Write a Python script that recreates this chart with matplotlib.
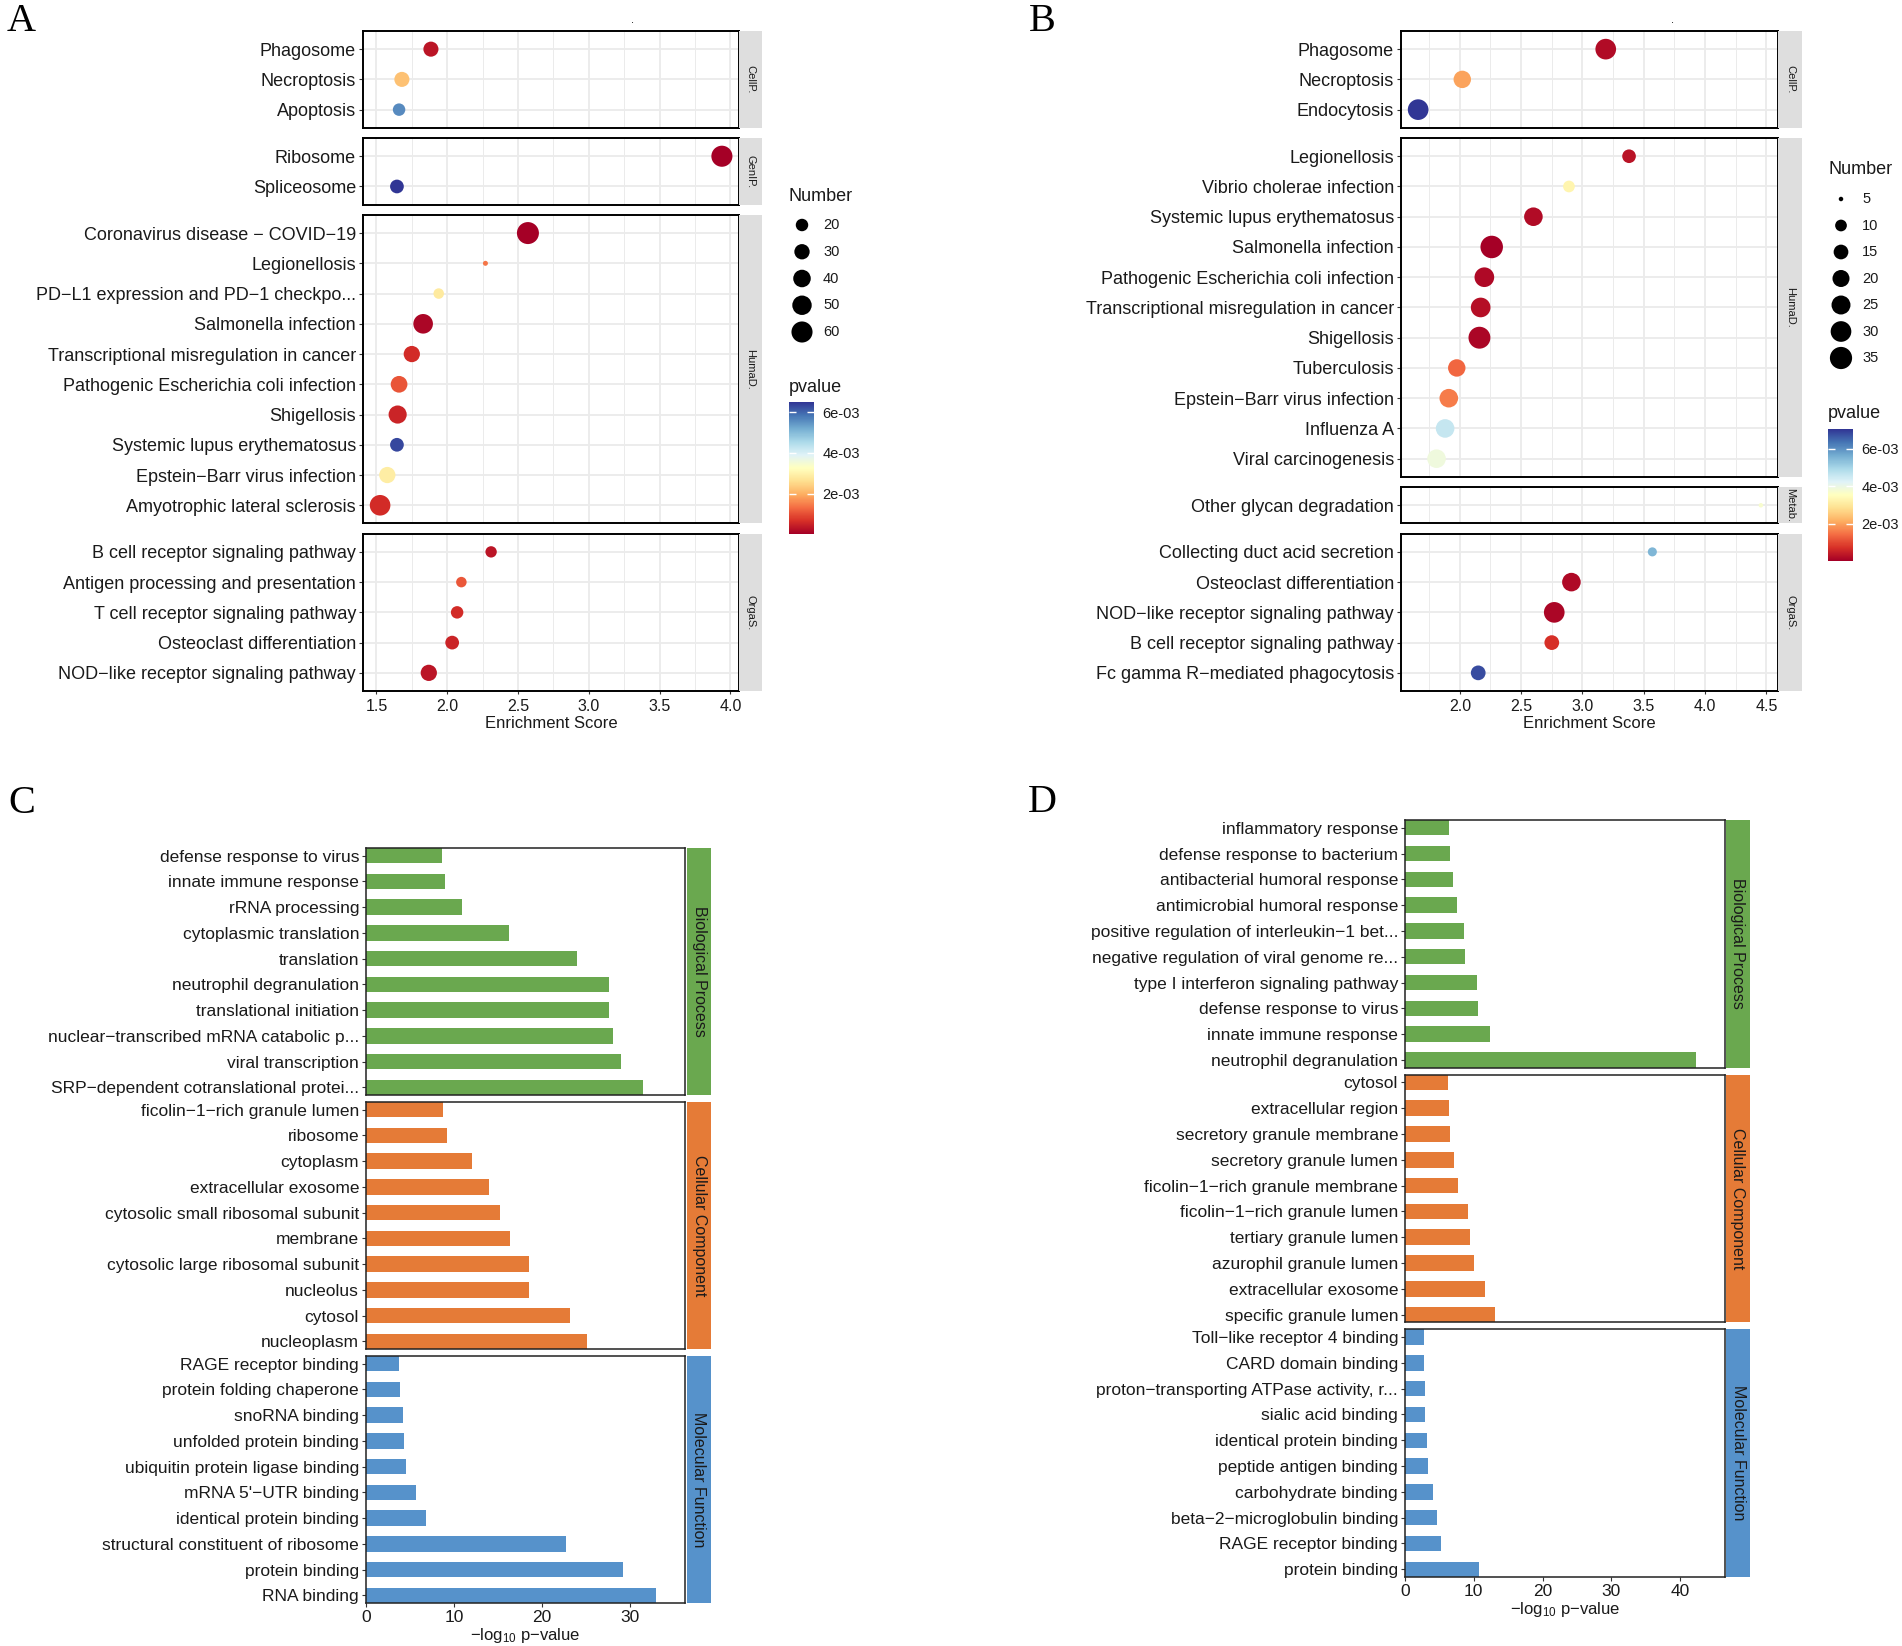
import matplotlib
matplotlib.use('Agg')
import matplotlib.pyplot as plt
import numpy as np
from matplotlib import colors as mcolors
from matplotlib.cm import ScalarMappable

plt.rcParams['font.family'] = ['Liberation Sans', 'DejaVu Sans']
plt.rcParams['mathtext.fontset'] = 'custom'
plt.rcParams['mathtext.rm'] = 'Liberation Sans'
plt.rcParams['mathtext.it'] = 'Liberation Sans:italic'

W, H, DPI = 1902, 1646, 100

# ---------------- Panel A data ----------------
cats_a = ['Phagosome', 'Necroptosis', 'Apoptosis',
          'Ribosome', 'Spliceosome',
          'Coronavirus disease \u2212 COVID\u221219', 'Legionellosis',
          'PD\u2212L1 expression and PD\u22121 checkpo...', 'Salmonella infection',
          'Transcriptional misregulation in cancer', 'Pathogenic Escherichia coli infection',
          'Shigellosis', 'Systemic lupus erythematosus', 'Epstein\u2212Barr virus infection',
          'Amyotrophic lateral sclerosis',
          'B cell receptor signaling pathway', 'Antigen processing and presentation',
          'T cell receptor signaling pathway', 'Osteoclast differentiation',
          'NOD\u2212like receptor signaling pathway']
group_a = ['CellP.'] * 3 + ['GenIP.'] * 2 + ['HumaD.'] * 10 + ['OrgaS.'] * 5
score_a = [1.885, 1.68, 1.66, 3.94, 1.645, 2.57, 2.27, 1.94, 1.83, 1.75, 1.66, 1.65,
           1.645, 1.577, 1.526, 2.31, 2.10, 2.07, 2.035, 1.87]
count_a = [29, 29, 20, 60, 24, 66, 9, 15, 51, 34, 36, 43, 24, 34, 57, 17, 15, 20, 24, 34]
pval_a = [3e-4, 2.2e-3, 5.6e-3, 1e-5, 6.5e-3, 1e-5, 1.4e-3, 2.8e-3, 1e-4, 6e-4, 1.05e-3,
          5e-4, 6.3e-3, 2.9e-3, 6e-4, 3e-4, 1.1e-3, 6e-4, 5e-4, 3e-4]
number_breaks_a = [20, 30, 40, 50, 60]
xticks_a = [1.5, 2.0, 2.5, 3.0, 3.5, 4.0]

# ---------------- Panel B data ----------------
cats_b = ['Phagosome', 'Necroptosis', 'Endocytosis',
          'Legionellosis', 'Vibrio cholerae infection', 'Systemic lupus erythematosus',
          'Salmonella infection', 'Pathogenic Escherichia coli infection',
          'Transcriptional misregulation in cancer', 'Shigellosis', 'Tuberculosis',
          'Epstein\u2212Barr virus infection', 'Influenza A', 'Viral carcinogenesis',
          'Other glycan degradation',
          'Collecting duct acid secretion', 'Osteoclast differentiation',
          'NOD\u2212like receptor signaling pathway', 'B cell receptor signaling pathway',
          'Fc gamma R\u2212mediated phagocytosis']
group_b = ['CellP.'] * 3 + ['HumaD.'] * 11 + ['Metab.'] + ['OrgaS.'] * 5
score_b = [3.19, 2.02, 1.66, 3.38, 2.89, 2.60, 2.26, 2.20, 2.17, 2.16, 1.975, 1.91, 1.88,
           1.81, 4.455, 3.57, 2.91, 2.77, 2.75, 2.15]
count_b = [30, 21, 30, 13, 10, 24, 36, 27, 27, 34, 21, 24, 24, 24, 5, 7, 24, 30, 15, 15]
pval_b = [2e-4, 2.0e-3, 7.05e-3, 3e-4, 3.3e-3, 2e-4, 1e-5, 1.5e-4, 2.5e-4, 1e-4, 1.35e-3,
          1.6e-3, 4.6e-3, 3.9e-3, 3.7e-3, 5.5e-3, 1.5e-4, 1e-4, 7e-4, 6.8e-3]
number_breaks_b = [5, 10, 15, 20, 25, 30, 35]
xticks_b = [2.0, 2.5, 3.0, 3.5, 4.0, 4.5]

# ---------------- Panel C data ----------------
go_groups = ['Biological Process', 'Cellular Component', 'Molecular Function']
go_colors = ['#6AA84F', '#E57B37', '#5692CB']

terms_c_bp = ['defense response to virus', 'innate immune response', 'rRNA processing',
              'cytoplasmic translation', 'translation', 'neutrophil degranulation',
              'translational initiation', 'nuclear\u2212transcribed mRNA catabolic p...',
              'viral transcription', 'SRP\u2212dependent cotranslational protei...']
vals_c_bp = [8.6, 9.0, 10.9, 16.3, 24.0, 27.6, 27.6, 28.1, 29.0, 31.5]
terms_c_cc = ['ficolin\u22121\u2212rich granule lumen', 'ribosome', 'cytoplasm',
              'extracellular exosome', 'cytosolic small ribosomal subunit', 'membrane',
              'cytosolic large ribosomal subunit', 'nucleolus', 'cytosol', 'nucleoplasm']
vals_c_cc = [8.8, 9.2, 12.1, 14.0, 15.3, 16.4, 18.5, 18.5, 23.2, 25.2]
terms_c_mf = ['RAGE receptor binding', 'protein folding chaperone', 'snoRNA binding',
              'unfolded protein binding', 'ubiquitin protein ligase binding',
              "mRNA 5'\u2212UTR binding", 'identical protein binding',
              'structural constituent of ribosome', 'protein binding', 'RNA binding']
vals_c_mf = [3.7, 3.9, 4.2, 4.3, 4.6, 5.7, 6.8, 22.8, 29.3, 33.0]
xticks_c = [0, 10, 20, 30]

# ---------------- Panel D data ----------------
terms_d_bp = ['inflammatory response', 'defense response to bacterium',
              'antibacterial humoral response', 'antimicrobial humoral response',
              'positive regulation of interleukin\u22121 bet...',
              'negative regulation of viral genome re...', 'type I interferon signaling pathway',
              'defense response to virus', 'innate immune response', 'neutrophil degranulation']
vals_d_bp = [6.4, 6.6, 7.0, 7.5, 8.6, 8.7, 10.5, 10.6, 12.4, 42.3]
terms_d_cc = ['cytosol', 'extracellular region', 'secretory granule membrane',
              'secretory granule lumen', 'ficolin\u22121\u2212rich granule membrane',
              'ficolin\u22121\u2212rich granule lumen', 'tertiary granule lumen',
              'azurophil granule lumen', 'extracellular exosome', 'specific granule lumen']
vals_d_cc = [6.2, 6.4, 6.5, 7.1, 7.7, 9.1, 9.4, 10.0, 11.6, 13.1]
terms_d_mf = ['Toll\u2212like receptor 4 binding', 'CARD domain binding',
              'proton\u2212transporting ATPase activity, r...', 'sialic acid binding',
              'identical protein binding', 'peptide antigen binding', 'carbohydrate binding',
              'beta\u22122\u2212microglobulin binding', 'RAGE receptor binding', 'protein binding']
vals_d_mf = [2.7, 2.8, 2.9, 2.9, 3.2, 3.4, 4.0, 4.6, 5.3, 10.8]
xticks_d = [0, 10, 20, 30, 40]

# ------------------------------------------------------------------
fig = plt.figure(figsize=(W / DPI, H / DPI), dpi=DPI)
PX = 72.0 / DPI  # points per pixel


def rect(x0, y0, x1, y1):
    return [x0 / W, 1 - y1 / H, (x1 - x0) / W, (y1 - y0) / H]


def facet_rows(ytop, ybot, units, gap):
    per = (ybot - ytop - gap * (len(units) - 1)) / sum(units)
    out, y = [], ytop
    for u in units:
        out.append((y, y + u * per))
        y += u * per + gap
    return out


def make_size_fn(vmin, vmax, dmin_px, dmax_px):
    def f(v):
        r = np.clip((np.asarray(v, float) - vmin) / (vmax - vmin), 0, 1)
        d = dmin_px + (dmax_px - dmin_px) * np.sqrt(r)
        return (d * PX) ** 2
    return f


def unique(seq):
    out = []
    for s in seq:
        if s not in out:
            out.append(s)
    return out


def dot_panel(cats, groups, score, count, pval, x0, x1, ytop, ybot, strip_w, xticks,
              size_fn, norm):
    gnames = unique(groups)
    idxs = [[i for i, g in enumerate(groups) if g == gn] for gn in gnames]
    units = [len(ix) - 1 + 1.2 for ix in idxs]
    rows = facet_rows(ytop, ybot, units, 10.3)
    lo, hi = min(score), max(score)
    xlo, xhi = lo - 0.05 * (hi - lo), hi + 0.05 * (hi - lo)
    minor = [t + 0.25 for t in [xticks[0] - 0.5] + xticks]
    minor = [m for m in minor if xlo <= m <= xhi]
    major = [t for t in xticks if xlo <= t <= xhi]
    for k, (gn, ix) in enumerate(zip(gnames, idxs)):
        ya, yb = rows[k]
        ax = fig.add_axes(rect(x0, ya, x1, yb))
        n = len(ix)
        yp = np.arange(n)
        ax.scatter([score[i] for i in ix], yp, s=size_fn([count[i] for i in ix]),
                   c=[pval[i] for i in ix], cmap='RdYlBu', norm=norm,
                   edgecolors='none', zorder=3)
        ax.set_xticks(major)
        ax.set_xticks(minor, minor=True)
        ax.set_yticks(yp)
        ax.set_yticklabels([cats[i] for i in ix], fontsize=13, color='#1a1a1a')
        ax.set_xlim(xlo, xhi)
        ax.set_ylim(n - 1 + 0.6, -0.6)
        ax.grid(True, which='major', color='#EBEBEB', lw=1.3)
        ax.grid(True, which='minor', axis='x', color='#EBEBEB', lw=0.7)
        ax.set_axisbelow(True)
        for sp in ax.spines.values():
            sp.set_linewidth(1.4)
            sp.set_color('black')
        ax.tick_params(axis='y', length=3, width=0.8, color='#333333', pad=2)
        ax.tick_params(axis='x', which='minor', length=0)
        if k == len(gnames) - 1:
            ax.set_xticklabels([f'{t:.1f}' for t in major])
            ax.tick_params(axis='x', which='major', length=2.5, width=0.8, color='#333333',
                           labelsize=11.5, labelcolor='#1a1a1a', pad=3)
            ax.set_xlabel('Enrichment Score', fontsize=12, labelpad=2, color='#1a1a1a')
        else:
            ax.tick_params(axis='x', which='major', length=0, labelbottom=False)
        sax = fig.add_axes(rect(x1, ya, x1 + strip_w, yb))
        sax.set_facecolor('#DEDEDE')
        sax.set_xticks([])
        sax.set_yticks([])
        for sp in sax.spines.values():
            sp.set_visible(False)
        sax.text(0.5, 0.5, gn, rotation=-90, ha='center', va='center', fontsize=8,
                 color='#1a1a1a', transform=sax.transAxes)


def bar_panel(terms_list, vals_list, x0, x1, ytop, ybot, sx0, sx1, xticks):
    allv = [v for vl in vals_list for v in vl]
    xmax = 1.1 * max(allv)
    units = [len(t) - 0.4 for t in terms_list]
    rows = facet_rows(ytop, ybot, units, 7)
    for k, (terms, vals) in enumerate(zip(terms_list, vals_list)):
        ya, yb = rows[k]
        ax = fig.add_axes(rect(x0, ya, x1, yb))
        n = len(terms)
        yp = np.arange(n)
        ax.barh(yp, vals, height=0.6, color=go_colors[k], zorder=2)
        ax.set_xticks(xticks)
        ax.set_yticks(yp)
        ax.set_yticklabels(terms, fontsize=12.5, color='#1a1a1a')
        ax.set_xlim(0, xmax)
        ax.set_ylim(n - 1 + 0.3, -0.3)
        for sp in ax.spines.values():
            sp.set_linewidth(1.1)
            sp.set_color('#222222')
        ax.tick_params(axis='y', length=3, width=0.8, color='#333333', pad=2)
        if k == len(terms_list) - 1:
            ax.tick_params(axis='x', length=3, width=0.8, color='#333333', labelsize=12.5,
                           labelcolor='#1a1a1a', pad=2)
            ax.set_xlabel('\u2212log$_{10}$ p\u2212value', fontsize=12, labelpad=1,
                          color='#1a1a1a')
        else:
            ax.tick_params(axis='x', length=0, labelbottom=False)
        sax = fig.add_axes(rect(sx0, ya, sx1, yb))
        sax.set_facecolor(go_colors[k])
        sax.set_xticks([])
        sax.set_yticks([])
        for sp in sax.spines.values():
            sp.set_visible(False)
        sax.text(0.5, 0.5, go_groups[k], rotation=-90, ha='center', va='center',
                 fontsize=11.5, color='#1a1a1a', transform=sax.transAxes)


def colorbar(norm, x0, y0, x1, y1, title_y):
    cax = fig.add_axes(rect(x0, y0, x1, y1))
    cb = fig.colorbar(ScalarMappable(norm=norm, cmap='RdYlBu'), cax=cax)
    ticks = [2e-3, 4e-3, 6e-3]
    cb.set_ticks(ticks)
    cb.set_ticklabels(['2e-03', '4e-03', '6e-03'])
    cb.outline.set_visible(False)
    cax.tick_params(axis='y', direction='in', length=5, width=1, color='white',
                    left=True, right=True, labelsize=10.5, labelcolor='#1a1a1a', pad=6)
    fig.text(x0 / W, 1 - title_y / H, 'pvalue', fontsize=13, ha='left', va='center',
             color='#1a1a1a')


def size_legend(ov, breaks, size_fn, x_dot, x_lab, y0, step, title_y, title_x):
    ov.text(title_x, title_y, 'Number', fontsize=13, ha='left', va='center', color='#1a1a1a')
    ys = [y0 + i * step for i in range(len(breaks))]
    ov.scatter([x_dot] * len(breaks), ys, s=size_fn(breaks), color='black',
               edgecolors='none')
    for b, y in zip(breaks, ys):
        ov.text(x_lab, y, str(b), fontsize=10.5, ha='left', va='center', color='#1a1a1a')


# ---- Panel A ----
size_a = make_size_fn(min(count_a), max(count_a), 5, 22)
norm_a = mcolors.Normalize(vmin=min(pval_a), vmax=max(pval_a))
dot_panel(cats_a, group_a, score_a, count_a, pval_a, 363, 739, 31, 691, 23, xticks_a,
          size_a, norm_a)
colorbar(norm_a, 789, 402, 814, 534, 387)

# ---- Panel B ----
size_b = make_size_fn(min(count_b), max(count_b), 4.5, 22.5)
norm_b = mcolors.Normalize(vmin=min(pval_b), vmax=max(pval_b))
dot_panel(cats_b, group_b, score_b, count_b, pval_b, 1401, 1778, 31, 691, 24, xticks_b,
          size_b, norm_b)
colorbar(norm_b, 1828, 429, 1853, 561, 413)

# ---- Panel C ----
bar_panel([terms_c_bp, terms_c_cc, terms_c_mf], [vals_c_bp, vals_c_cc, vals_c_mf],
          366, 685, 848, 1603, 687, 711, xticks_c)

# ---- Panel D ----
bar_panel([terms_d_bp, terms_d_cc, terms_d_mf], [vals_d_bp, vals_d_cc, vals_d_mf],
          1405, 1725, 820, 1577, 1726, 1750, xticks_d)

# ---- overlay: legends, letters ----
ov = fig.add_axes([0, 0, 1, 1])
ov.set_xlim(0, W)
ov.set_ylim(H, 0)
ov.axis('off')
size_legend(ov, number_breaks_a, size_a, 802, 823, 225, 26.75, 196, 789)
size_legend(ov, number_breaks_b, size_b, 1841, 1862, 199, 26.5, 169, 1828)
for lab, x, y in [('A', 21, 21), ('B', 1042, 21), ('C', 22, 803), ('D', 1042, 802)]:
    ov.text(x, y, lab, fontsize=29, ha='center', va='center', family='Liberation Serif')
ov.text(633, 20, '.', fontsize=8, ha='center', va='center')
ov.text(1672, 20, '.', fontsize=8, ha='center', va='center')

fig.savefig('out.png', dpi=DPI, facecolor='white')
